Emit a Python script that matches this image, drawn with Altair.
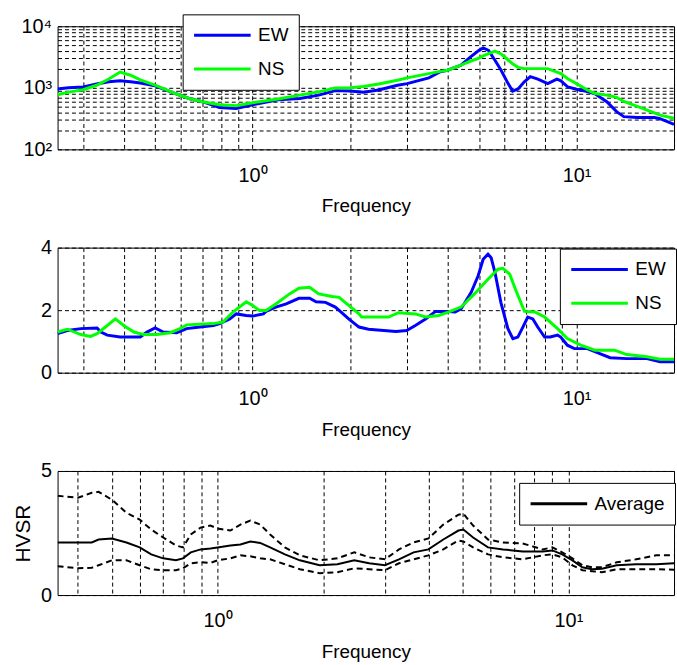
import altair as alt
import pandas as pd

FONT = "Liberation Sans"
BLUE = "#0000ff"
GREEN = "#00ff00"

# ---------------- top panel: spectra (log amplitude) ----------------
top_freq = [0.25, 0.27, 0.30, 0.33, 0.36, 0.39, 0.42, 0.45, 0.50, 0.58,
            0.64, 0.70, 0.79, 0.89, 1.0, 1.2, 1.4, 1.6, 1.8, 2.0,
            2.2, 2.45, 2.8, 3.0, 3.5, 3.8, 4.0, 4.4, 4.7, 5.0,
            5.15, 5.35, 5.6, 5.85, 6.15, 6.35, 6.6, 6.9, 7.2, 7.6,
            8.15, 8.7, 8.95, 9.4, 10.0, 10.8, 11.4, 12.4, 13.3, 14.0,
            15.4, 17.4, 18.1, 20]
top_ew = [960, 1000, 1030, 1150, 1250, 1300, 1250, 1200, 1080, 800,
          665, 595, 480, 460, 530, 640, 670, 760, 900, 890,
          850, 920, 1100, 1170, 1450, 1820, 1930, 2330, 3160, 4060,
          4440, 4060, 2800, 1930, 1170, 885, 960, 1250, 1520, 1380,
          1170, 1380, 1300, 1030, 950, 870, 800, 595, 410, 340,
          330, 330, 315, 255]
top_ns = [770, 850, 930, 1100, 1390, 1800, 1600, 1350, 1110, 800,
          665, 595, 530, 510, 570, 660, 760, 860, 990, 1000,
          1050, 1150, 1330, 1450, 1700, 1850, 1930, 2330, 2700, 3030,
          3300, 3580, 3950, 3550, 2830, 2450, 2150, 2050, 2050, 2050,
          2050, 1800, 1700, 1400, 1170, 920, 810, 760, 700, 600,
          500, 390, 360, 320]

# ---------------- middle panel: H/V ratios ----------------
mid_freq_ew = [0.25, 0.268, 0.295, 0.331, 0.34, 0.356, 0.39, 0.45, 0.472, 0.5,
               0.53, 0.583, 0.626, 0.688, 0.756, 0.792, 0.85, 0.891, 0.956, 1.0,
               1.08, 1.10, 1.18, 1.27, 1.39, 1.50, 1.57, 1.68, 1.80, 1.85,
               1.98, 2.13, 2.28, 2.77, 2.99, 3.18, 3.42, 3.67, 4.02, 4.22,
               4.4, 4.73, 4.97, 5.15, 5.33, 5.45, 5.6, 5.84, 6.14, 6.36,
               6.59, 6.83, 7.07, 7.33, 7.59, 7.97, 8.3, 8.74, 8.94, 9.37,
               9.85, 10.8, 11.8, 12.7, 14.3, 16.5, 18.1, 20]
mid_ew = [1.25, 1.35, 1.41, 1.43, 1.30, 1.20, 1.14, 1.14, 1.30, 1.43,
          1.30, 1.28, 1.41, 1.46, 1.51, 1.57, 1.72, 1.88, 1.83, 1.81,
          1.88, 1.96, 2.10, 2.20, 2.38, 2.38, 2.27, 2.25, 2.10, 1.99,
          1.72, 1.46, 1.39, 1.32, 1.35, 1.51, 1.72, 1.96, 1.96, 1.94,
          2.04, 2.57, 3.10, 3.63, 3.79, 3.68, 3.21, 2.25, 1.41, 1.09,
          1.14, 1.46, 1.78, 1.72, 1.46, 1.14, 1.14, 1.20, 1.14, 0.88,
          0.77, 0.77, 0.61, 0.48, 0.45, 0.45, 0.35, 0.35]
mid_freq_ns = [0.25, 0.268, 0.295, 0.316, 0.331, 0.356, 0.377, 0.4, 0.43, 0.46,
               0.506, 0.557, 0.597, 0.626, 0.756, 0.81, 0.87, 0.956, 1.0, 1.05,
               1.10, 1.18, 1.30, 1.39, 1.50, 1.60, 1.76, 1.85, 1.98, 2.13,
               2.17, 2.63, 2.82, 3.18, 3.42, 3.75, 4.02, 4.4, 4.84, 5.33,
               5.72, 5.93, 6.22, 6.5, 6.91, 7.43, 7.97, 8.74, 9.37, 10.3,
               11.4, 13.1, 14.3, 16.5, 18.1, 20]
mid_ns = [1.30, 1.39, 1.22, 1.16, 1.25, 1.51, 1.72, 1.51, 1.30, 1.22,
          1.22, 1.28, 1.41, 1.53, 1.57, 1.62, 1.94, 2.27, 2.15, 1.99,
          1.99, 2.20, 2.52, 2.70, 2.73, 2.52, 2.44, 2.41, 2.15, 1.88,
          1.78, 1.78, 1.92, 1.88, 1.78, 1.83, 1.94, 2.10, 2.52, 2.99,
          3.31, 3.34, 3.15, 2.63, 1.96, 1.94, 1.78, 1.41, 1.09, 0.88,
          0.72, 0.72, 0.58, 0.51, 0.43, 0.43]

# ---------------- bottom panel: average HVSR with +/- bounds ----------------
bot_freq = [0.35, 0.40, 0.438, 0.458, 0.50, 0.55, 0.60, 0.647, 0.70, 0.761,
            0.797, 0.839, 0.895, 0.955, 1.0, 1.088, 1.162, 1.24, 1.323, 1.412,
            1.556, 1.716, 1.954, 2.196, 2.453, 2.704, 3.0, 3.29, 3.62, 3.99,
            4.40, 4.86, 5.02, 5.35, 5.90, 6.51, 7.41, 8.44, 9.0, 9.6,
            10.27, 10.96, 11.68, 12.46, 13.73, 15.6, 17.8, 20]
bot_avg = [2.12, 2.12, 2.12, 2.24, 2.28, 2.12, 1.92, 1.64, 1.48, 1.40,
           1.48, 1.72, 1.84, 1.88, 1.92, 2.0, 2.04, 2.16, 2.1, 1.92,
           1.64, 1.40, 1.20, 1.24, 1.40, 1.28, 1.20, 1.44, 1.72, 1.84,
           2.24, 2.60, 2.64, 2.32, 1.92, 1.84, 1.76, 1.76, 1.80, 1.64,
           1.40, 1.12, 1.04, 1.06, 1.20, 1.24, 1.24, 1.28]
bot_upper = [4.0, 3.92, 4.12, 4.16, 3.84, 3.32, 3.04, 2.64, 2.32, 2.0,
             1.92, 2.44, 2.72, 2.80, 2.68, 2.6, 2.84, 3.0, 2.84, 2.44,
             1.92, 1.60, 1.40, 1.48, 1.72, 1.52, 1.44, 1.84, 2.12, 2.28,
             2.84, 3.24, 3.28, 2.80, 2.24, 2.12, 2.08, 1.84, 1.92, 1.72,
             1.48, 1.20, 1.12, 1.12, 1.32, 1.44, 1.60, 1.60]
bot_lower = [1.16, 1.08, 1.1, 1.2, 1.4, 1.4, 1.2, 1.04, 1.0, 1.0,
             1.08, 1.28, 1.32, 1.30, 1.40, 1.48, 1.6, 1.56, 1.48, 1.44,
             1.24, 1.04, 0.88, 0.92, 1.08, 1.04, 1.0, 1.28, 1.44, 1.60,
             1.84, 2.2, 2.16, 1.92, 1.64, 1.52, 1.44, 1.60, 1.64, 1.52,
             1.20, 1.0, 0.96, 0.92, 1.04, 1.04, 1.04, 1.02]

series_names = ["EW", "NS"]
x_grid_top = [0.3, 0.4, 0.5, 0.6, 0.7, 0.8, 0.9, 1, 2, 3, 4, 5, 6, 7, 8, 9, 10, 20]
x_grid_bot = [0.4, 0.5, 0.6, 0.7, 0.8, 0.9, 1, 2, 3, 4, 5, 6, 7, 8, 9, 10, 20]
y_grid_top = [100, 200, 300, 400, 500, 600, 700, 800, 900, 1000,
              2000, 3000, 4000, 5000, 6000, 7000, 8000, 9000, 10000]

X_LABELS = "datum.value == 1 ? '10\u2070' : datum.value == 10 ? '10\u00b9' : ''"
Y_LOG_LABELS = ("datum.value == 100 ? '10\u00b2' : datum.value == 1000 ? '10\u00b3' : "
                "datum.value == 10000 ? '10\u2074' : ''")

W = 621


def x_axis(values):
    return alt.Axis(values=values, labelExpr=X_LABELS, grid=True, gridDash=[4, 3],
                    gridColor="black", gridOpacity=1, gridWidth=1, ticks=False,
                    domain=False, labelFont=FONT, labelFontSize=20, labelColor="black",
                    labelPadding=16, labelOverlap=False, labelFlush=False,
                    title="Frequency", titleFont=FONT, titleFontSize=19,
                    titleFontWeight="normal", titleColor="black", titlePadding=12,
                    minExtent=36, maxExtent=36)


def y_axis(values, label_expr=None, title=None, extent=36, title_pad=2):
    kw = dict(values=values, grid=True, gridDash=[4, 3], gridColor="black",
              gridOpacity=1, gridWidth=1, ticks=False, domain=False,
              labelFont=FONT, labelFontSize=20, labelColor="black", labelPadding=6,
              labelOverlap=False, labelFlush=False, minExtent=extent, maxExtent=extent)
    if label_expr is not None:
        kw["labelExpr"] = label_expr
    if title is not None:
        kw.update(title=title, titleFont=FONT, titleFontSize=21,
                  titleFontWeight="normal", titleColor="black", titlePadding=title_pad)
    else:
        kw["title"] = None
    return alt.Axis(**kw)


def legend(lx, ly):
    return alt.Legend(orient="none", legendX=lx, legendY=ly, title=None,
                      symbolType="stroke", symbolSize=3249, symbolStrokeWidth=3,
                      clipHeight=22, labelFont=FONT, labelFontSize=19, labelColor="black",
                      strokeColor="black", fillColor="white", padding=10,
                      rowPadding=12, labelOffset=6, cornerRadius=0)


top_df = pd.DataFrame({
    "f": top_freq + top_freq,
    "v": top_ew + top_ns,
    "series": [series_names[0]] * len(top_freq) + [series_names[1]] * len(top_freq),
})
mid_df = pd.DataFrame({
    "f": mid_freq_ew + mid_freq_ns,
    "v": mid_ew + mid_ns,
    "series": [series_names[0]] * len(mid_freq_ew) + [series_names[1]] * len(mid_freq_ns),
})
bot_avg_df = pd.DataFrame({"f": bot_freq, "v": bot_avg, "series": ["Average"] * len(bot_freq)})
bot_band_df = pd.DataFrame({
    "f": bot_freq + bot_freq,
    "v": bot_upper + bot_lower,
    "band": ["upper"] * len(bot_freq) + ["lower"] * len(bot_freq),
})

color_ew_ns = alt.Scale(domain=series_names, range=[BLUE, GREEN])

top = alt.Chart(top_df).mark_line(strokeWidth=3, clip=True).encode(
    x=alt.X("f:Q", scale=alt.Scale(type="log", domain=[0.25, 20], nice=False), axis=x_axis(x_grid_top)),
    y=alt.Y("v:Q", scale=alt.Scale(type="log", domain=[100, 10000], nice=False),
            axis=y_axis(y_grid_top, Y_LOG_LABELS)),
    color=alt.Color("series:N", scale=color_ew_ns, legend=legend(126, -12)),
).properties(width=W, height=124)

mid = alt.Chart(mid_df).mark_line(strokeWidth=3, clip=True).encode(
    x=alt.X("f:Q", scale=alt.Scale(type="log", domain=[0.25, 20], nice=False), axis=x_axis(x_grid_top)),
    y=alt.Y("v:Q", scale=alt.Scale(domain=[0, 4], nice=False), axis=y_axis([0, 2, 4])),
    color=alt.Color("series:N", scale=color_ew_ns, legend=legend(506, 1)),
).properties(width=W, height=126)

bx = alt.X("f:Q", scale=alt.Scale(type="log", domain=[0.35, 20], nice=False), axis=x_axis(x_grid_bot))
by = alt.Y("v:Q", scale=alt.Scale(domain=[0, 5], nice=False),
           axis=y_axis([0, 5], title="HVSR", extent=22, title_pad=2))

bands = alt.Chart(bot_band_df).mark_line(strokeWidth=2, strokeDash=[6, 4], color="black", clip=True).encode(
    x=bx, y=by, detail="band:N")
avg = alt.Chart(bot_avg_df).mark_line(strokeWidth=2, clip=True).encode(
    x=bx, y=by,
    color=alt.Color("series:N", scale=alt.Scale(domain=["Average"], range=["black"]),
                    legend=legend(465, 12)),
)
bottom = alt.layer(bands, avg).properties(width=W, height=125)

chart = alt.vconcat(top, mid, bottom, spacing=20).resolve_scale(
    x="independent", y="independent", color="independent"
).resolve_legend(color="independent").properties(
    padding={"left": 12, "top": 11, "right": 0, "bottom": 0},
    background="white",
).configure_view(stroke="black", strokeWidth=1)

chart.save("out.html", embed_options={"renderer": "svg", "actions": False})
